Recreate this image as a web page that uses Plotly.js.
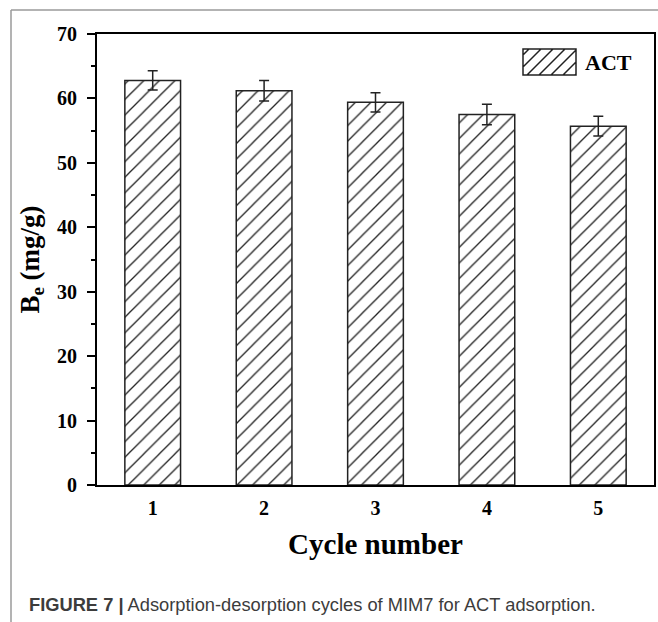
<!DOCTYPE html>
<html>
<head>
<meta charset="utf-8">
<script src="https://cdn.plot.ly/plotly-3.0.1.min.js"></script>
<style>
  html, body { margin: 0; padding: 0; background: #ffffff; }
  #chart { width: 658px; height: 622px; }
</style>
</head>
<body>
<div id="chart"></div>
<script>
// Adsorption capacity over repeated adsorption-desorption cycles
const cycles = [1, 2, 3, 4, 5];
const capacity = [62.8, 61.2, 59.4, 57.5, 55.7];   // Be, mg/g
const capacityErr = [1.5, 1.6, 1.5, 1.6, 1.55];
const seriesName = 'ACT';
const yTickValues = [0, 10, 20, 30, 40, 50, 60, 70];
const xTickLabels = ['1', '2', '3', '4', '5'];

const serif = 'Liberation Serif, Times New Roman, serif';
const sans = 'Liberation Sans, Arial, Helvetica, sans-serif';

// Hatched legend swatch built as a pixel-sized path anchored inside the plot
function hatchSwatch(w, h, step) {
  let p = `M0,0H${w}V${h}H0Z`;
  for (let c = -h + step / 2; c < w; c += step) {
    const xa = Math.max(0, c), xb = Math.min(w, h + c);
    if (xb <= xa) continue;
    p += ` M${xa.toFixed(1)},${(xa - c).toFixed(1)}L${xb.toFixed(1)},${(xb - c).toFixed(1)}`;
  }
  return p;
}

const trace = {
  type: 'bar',
  x: cycles,
  y: capacity,
  name: seriesName,
  width: 0.5,
  marker: {
    color: '#ffffff',
    line: { color: '#222222', width: 1.5 },
    pattern: { shape: '/', size: 11, solidity: 0.12, fgcolor: '#222222', bgcolor: '#ffffff' }
  },
  error_y: { type: 'data', array: capacityErr, visible: true, color: '#222222', thickness: 1.5, width: 5 },
  showlegend: false,
  hoverinfo: 'skip'
};

const layout = {
  width: 658,
  height: 622,
  margin: { l: 97, r: 4, t: 34, b: 137 },
  paper_bgcolor: '#ffffff',
  plot_bgcolor: '#ffffff',
  showlegend: false,
  xaxis: {
    range: [0.5, 5.5],
    tickvals: cycles,
    ticktext: xTickLabels,
    ticks: '',
    ticklabelstandoff: 4,
    showgrid: false,
    zeroline: false,
    showline: true,
    linecolor: '#000000',
    linewidth: 2,
    mirror: true,
    tickfont: { family: serif, size: 20, color: '#000000', weight: 'bold' },
    title: { text: 'Cycle number', standoff: 16, font: { family: serif, size: 29, color: '#000000', weight: 'bold' } }
  },
  yaxis: {
    range: [0, 70],
    tickvals: yTickValues,
    ticks: 'outside',
    ticklen: 8,
    tickwidth: 2,
    tickcolor: '#000000',
    ticklabelstandoff: 6,
    minor: { dtick: 5, ticks: 'outside', ticklen: 4, tickwidth: 2, tickcolor: '#000000' },
    showgrid: false,
    zeroline: false,
    showline: true,
    linecolor: '#000000',
    linewidth: 2,
    mirror: true,
    tickfont: { family: serif, size: 20, color: '#000000', weight: 'bold' },
    title: { text: 'B<sub>e</sub> (mg/g)', standoff: 10, font: { family: serif, size: 27, color: '#000000', weight: 'bold' } }
  },
  shapes: [
    // outer figure frame
    { type: 'line', xref: 'paper', yref: 'paper', x0: -86 / 557, x1: 1.2, y0: 475 / 451, y1: 475 / 451,
      line: { color: '#9a9a9a', width: 1.5 } },
    { type: 'line', xref: 'paper', yref: 'paper', x0: -86 / 557, x1: -86 / 557, y0: 475 / 451, y1: -0.4,
      line: { color: '#9a9a9a', width: 1.5 } },
    // legend swatch
    { type: 'path', xref: 'paper', yref: 'paper', xsizemode: 'pixel', ysizemode: 'pixel',
      xanchor: 426 / 557, yanchor: 410 / 451, path: hatchSwatch(53, 26, 12),
      fillcolor: 'rgba(0,0,0,0)', line: { color: '#222222', width: 1.5 } }
  ],
  annotations: [
    { xref: 'paper', yref: 'paper', x: 486 / 557, y: 423 / 451, xanchor: 'left', yanchor: 'middle',
      text: seriesName, showarrow: false, font: { family: serif, size: 22, color: '#000000', weight: 'bold' } },
    { xref: 'paper', yref: 'paper', x: -70 / 557, y: -119 / 451, xanchor: 'left', yanchor: 'middle',
      text: '<b>FIGURE 7 |</b> Adsorption-desorption cycles of MIM7 for ACT adsorption.',
      showarrow: false, font: { family: sans, size: 18.3, color: '#3c3c3c' } }
  ]
};

Plotly.newPlot('chart', [trace], layout, { displayModeBar: false, staticPlot: true });
</script>
</body>
</html>
